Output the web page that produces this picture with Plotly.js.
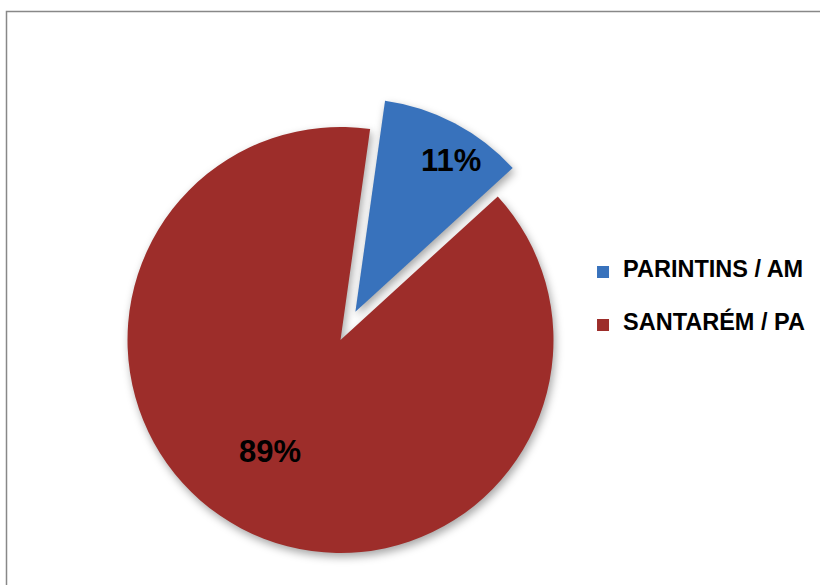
<!DOCTYPE html>
<html>
<head>
<meta charset="utf-8">
<script src="https://cdn.plot.ly/plotly-3.0.1.min.js"></script>
<style>
html,body{margin:0;padding:0;background:#fff;}
#chart{width:820px;height:585px;}
#chart .slice path.surface{filter:drop-shadow(2px 4px 4px rgba(0,0,0,0.35));}
</style>
</head>
<body>
<div id="chart"></div>
<script>
var categories = ['PARINTINS / AM', 'SANTARÉM / PA'];
var values = [11, 89];
var sliceColors = ['#3872BC', '#9D2D2A'];
var pulls = [0.15, 0];

var W = 820, H = 585;
var domainX = [0.11652, 0.71396];
var domainY = [0.0001, 0.8375];
var rotation = 8;
var labelRadius = [0.84, 0.62];
var labelAngleShift = 4.5;

var legendLabels = categories.map(function (c) {
  return '\u00a0<br><span style="font-size:23.5px">' + c + '</span><br>\u00a0';
});

var trace = {
  type: 'pie',
  labels: legendLabels,
  values: values,
  sort: false,
  direction: 'clockwise',
  rotation: rotation,
  pull: pulls,
  marker: { colors: sliceColors, line: { width: 0 } },
  textinfo: 'none',
  hoverinfo: 'none',
  domain: { x: domainX, y: domainY }
};

// percentage labels placed using the pie geometry derived from the values
var total = values.reduce(function (a, b) { return a + b; }, 0);
var boxW = W * (domainX[1] - domainX[0]);
var boxH = H * (domainY[1] - domainY[0]);
var maxPull = Math.max.apply(null, pulls);
var r = Math.min(boxW, boxH) / 2 / (1 + maxPull);
var cx = W * (domainX[0] + domainX[1]) / 2;
var cy = H * (1 - domainY[0]) - boxH / 2;
var annotations = [];
var cum = 0;
values.forEach(function (v, i) {
  var frac = v / total;
  var mid = (rotation + (cum + frac / 2) * 360) * Math.PI / 180;
  var la = mid + labelAngleShift * Math.PI / 180;
  var px = cx + pulls[i] * r * Math.sin(mid) + labelRadius[i] * r * Math.sin(la);
  var py = cy - pulls[i] * r * Math.cos(mid) - labelRadius[i] * r * Math.cos(la);
  annotations.push({
    xref: 'paper', yref: 'paper', x: px / W, y: 1 - py / H,
    xanchor: 'center', yanchor: 'middle', showarrow: false,
    text: Math.round(frac * 100) + '%',
    font: { family: 'Liberation Sans, Arial, sans-serif', size: 31, color: '#000000', weight: 'bold' }
  });
  cum += frac;
});

var layout = {
  width: W,
  height: H,
  margin: { l: 0, r: 0, t: 0, b: 0 },
  paper_bgcolor: '#ffffff',
  showlegend: true,
  legend: {
    x: 0.711, xanchor: 'left',
    y: 0.5889, yanchor: 'top',
    font: { family: 'Liberation Sans, Arial, sans-serif', size: 12.82, color: '#000000', weight: 'bold' },
    bgcolor: 'rgba(0,0,0,0)',
    borderwidth: 0
  },
  annotations: annotations,
  shapes: [{
    type: 'rect', xref: 'paper', yref: 'paper',
    x0: 6.5 / W, x1: 1.02, y0: -0.02, y1: 1 - 11.5 / H,
    line: { color: '#888888', width: 1.5 }, fillcolor: 'rgba(0,0,0,0)', layer: 'above'
  }]
};

Plotly.newPlot('chart', [trace], layout, { displayModeBar: false, staticPlot: true });
</script>
</body>
</html>
